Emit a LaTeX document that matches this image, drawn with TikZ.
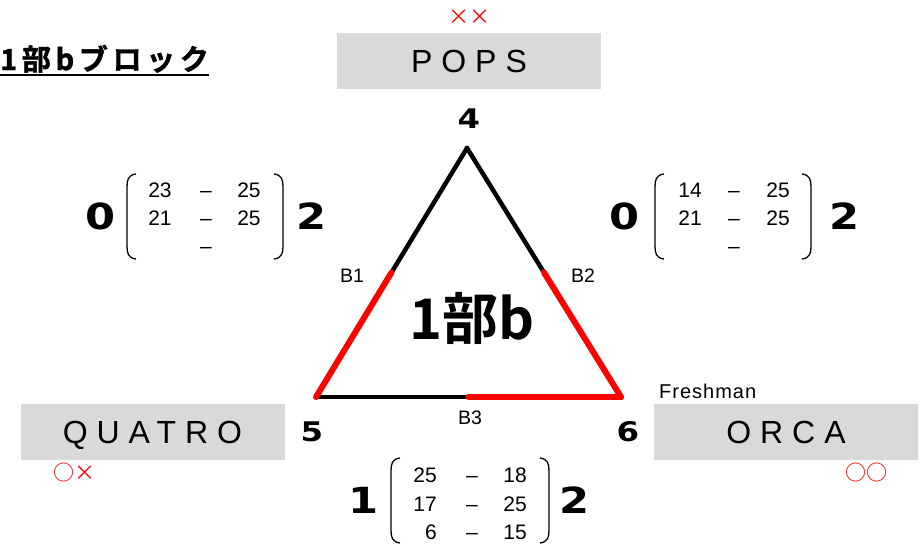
\documentclass[tikz,border=0pt]{standalone}
\usepackage{fontspec}
\setmainfont{Liberation Sans}
\newfontfamily\cjk{Noto Sans CJK JP}
\newfontfamily\cjkb{Noto Sans CJK JP Bold}
\newfontfamily\heavy[FakeStretch=1.2]{DejaVu Sans Bold}
\usetikzlibrary{calc}
\definecolor{boxgray}{HTML}{D9D9D9}
\definecolor{myred}{HTML}{FF0000}
\tikzset{
  teambox/.style={fill=boxgray, minimum width=264pt, minimum height=56pt, inner sep=0pt,
     text height=23pt, text depth=0pt,
     font=\fontsize{32}{34}\selectfont\addfontfeature{LetterSpace=28}},
  redmark/.style={text=myred, inner sep=0pt, font=\cjk\fontsize{21}{22}\selectfont},
  vnum/.style={inner sep=0pt, font=\heavy\fontsize{27}{28}\selectfont},
  bignum/.style={inner sep=0pt, font=\heavy\fontsize{36}{38}\selectfont},
  sc/.style={inner sep=0pt, anchor=base, text height=15pt, text depth=0pt, font=\fontsize{21}{22}\selectfont},
  blab/.style={inner sep=0pt, font=\fontsize{19.5}{20}\selectfont},
  edgeblk/.style={line width=4.5pt, line cap=round, black},
  edgered/.style={line width=6pt, line cap=round, myred},
  parenline/.style={line width=1.3pt},
  lpar/.pic={\draw[parenline] (9,0) .. controls (1,1) and (0,6) .. (0,13) -- (0,72) .. controls (0,79) and (1,84) .. (9,85);},
  rpar/.pic={\draw[parenline] (-9,0) .. controls (-1,1) and (0,6) .. (0,13) -- (0,72) .. controls (0,79) and (-1,84) .. (-9,85);}
}
\begin{document}
\begin{tikzpicture}[x=1pt,y=-1pt]
\useasboundingbox (0,0) rectangle (924,544);
% title
\node[anchor=base west, inner sep=0pt, font=\cjkb\fontsize{29}{30}\selectfont\addfontfeature{LetterSpace=16,FakeBold=1.5}] (title) at (0,70) {1部bブロック};
\draw[line width=1.5pt] ([yshift=-5pt]title.base west) -- ([yshift=-5pt]title.base east);
% team boxes
\node[teambox] (pops) at (469,61) {POPS};
\node[teambox] (quatro) at (152.5,431.5) {QUATRO};
\node[teambox] (orca) at (786,431.5) {ORCA};
\node[anchor=base west, inner sep=0pt, font=\fontsize{20}{21}\selectfont\addfontfeature{LetterSpace=5}] (fresh) at (659,398) {Freshman};
% red marks
\node[redmark] (mpops) at (469,17) {××};
\node[redmark] (mquatro) at (74,473) {○×};
\node[redmark] (morca) at (866,473) {○○};
% vertex numbers
\node[vnum] (n4) at (469,119) {4};
\node[vnum] (n5) at (312,432) {5};
\node[vnum] (n6) at (628,432) {6};
% triangle
\coordinate (A) at (467,148);
\coordinate (L) at (316,397);
\coordinate (R) at (621,397);
\coordinate (mAL) at ($(A)!0.5!(L)$);
\coordinate (mAR) at ($(A)!0.5!(R)$);
\coordinate (mLR) at ($(L)!0.5!(R)$);
\draw[edgeblk] (A) -- (mAL);
\draw[edgeblk] (A) -- (mAR);
\draw[edgeblk] (L) -- (mLR);
\draw[edgered] (mAL) -- (L);
\draw[edgered] (mAR) -- (R);
\draw[edgered] (mLR) -- (R);
\node[blab] (b1) at (352,276) {B1};
\node[blab] (b2) at (583,276) {B2};
\node[blab] (b3) at (470,418) {B3};
\node[inner sep=0pt, font=\cjkb\fontsize{56}{58}\selectfont] (center) at (472,318) {1部b};
% left score
\node[bignum] (l0) at (101,216) {0};
\node[bignum] (l2) at (312,216) {2};
\pic at (127,174) {lpar};
\pic at (283,174) {rpar};
\node[sc] (l11) at (160,197.5) {23};
\node[sc] (l12) at (206,197.5) {–};
\node[sc] (l13) at (249,197.5) {25};
\node[sc] (l21) at (160,225.5) {21};
\node[sc] (l22) at (206,225.5) {–};
\node[sc] (l23) at (249,225.5) {25};
\node[sc] (l32) at (206,253) {–};
% right score
\node[bignum] (r0) at (625,216) {0};
\node[bignum] (r2) at (845,216) {2};
\pic at (655,174) {lpar};
\pic at (811,174) {rpar};
\node[sc] (r11) at (690,197.5) {14};
\node[sc] (r12) at (734,197.5) {–};
\node[sc] (r13) at (778,197.5) {25};
\node[sc] (r21) at (690,225.5) {21};
\node[sc] (r22) at (734,225.5) {–};
\node[sc] (r23) at (778,225.5) {25};
\node[sc] (r32) at (734,253) {–};
% bottom score
\node[bignum] (b1n) at (364,500) {1};
\node[bignum] (b2n) at (575,500) {2};
\pic at (391,458) {lpar};
\pic at (549,458) {rpar};
\node[sc] (c11) at (425,482.5) {25};
\node[sc] (c12) at (472,482.5) {–};
\node[sc] (c13) at (515,482.5) {18};
\node[sc] (c21) at (425,511.5) {17};
\node[sc] (c22) at (472,511.5) {–};
\node[sc] (c23) at (515,511.5) {25};
\node[sc, anchor=base east] (c31) at (437,539.5) {6};
\node[sc] (c32) at (472,539.5) {–};
\node[sc] (c33) at (515,539.5) {15};
\end{tikzpicture}
\end{document}
